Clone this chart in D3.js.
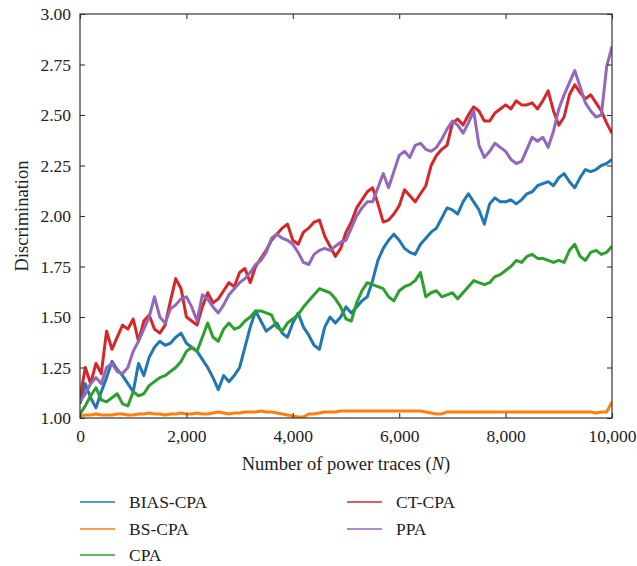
<!DOCTYPE html>
<html>
<head>
<meta charset="utf-8">
<script src="https://cdn.jsdelivr.net/npm/d3@7"></script>
<style>
  html, body { margin: 0; padding: 0; background: #fff; }
  svg { display: block; }
  text { font-family: "Liberation Serif", "Times New Roman", "DejaVu Serif", serif; fill: #222; }
</style>
</head>
<body>
<svg id="chart" width="637" height="566"></svg>
<script>
// number of power traces, sampled every 100
const traces = d3.range(0, 10001, 100);

const seriesNames = ['BIAS-CPA', 'BS-CPA', 'CPA', 'CT-CPA', 'PPA'];
const seriesColors = ['#1f77b4', '#ff7f0e', '#2ca02c', '#d62728', '#9467bd'];

const biasCpa = [
  1.07, 1.17, 1.10, 1.05, 1.13, 1.20, 1.28, 1.24, 1.21, 1.17,
  1.13, 1.27, 1.21, 1.30, 1.35, 1.38, 1.36, 1.37, 1.40, 1.42,
  1.37, 1.35, 1.33, 1.29, 1.25, 1.20, 1.14, 1.21, 1.18, 1.21,
  1.25, 1.35, 1.45, 1.53, 1.48, 1.43, 1.45, 1.47, 1.42, 1.40,
  1.47, 1.52, 1.45, 1.41, 1.36, 1.34, 1.45, 1.50, 1.47, 1.50,
  1.55, 1.52, 1.55, 1.58, 1.60, 1.68, 1.78, 1.84, 1.88, 1.91,
  1.88, 1.84, 1.82, 1.81, 1.86, 1.89, 1.92, 1.94, 1.99, 2.04,
  2.03, 2.01, 2.07, 2.11, 2.07, 2.03, 1.96, 2.06, 2.09, 2.07,
  2.07, 2.08, 2.06, 2.08, 2.11, 2.12, 2.15, 2.16, 2.17, 2.15,
  2.19, 2.21, 2.17, 2.14, 2.19, 2.23, 2.22, 2.23, 2.25, 2.26,
  2.28
];
const bsCpa = [
  1.01, 1.015, 1.015, 1.02, 1.015, 1.015, 1.015, 1.02, 1.02, 1.015,
  1.015, 1.02, 1.02, 1.025, 1.02, 1.02, 1.015, 1.02, 1.02, 1.025,
  1.02, 1.02, 1.025, 1.02, 1.02, 1.025, 1.03, 1.025, 1.02, 1.025,
  1.025, 1.03, 1.03, 1.03, 1.035, 1.03, 1.03, 1.025, 1.02, 1.015,
  1.01, 1.005, 1.005, 1.02, 1.02, 1.025, 1.03, 1.03, 1.03, 1.035,
  1.035, 1.035, 1.035, 1.035, 1.035, 1.035, 1.035, 1.035, 1.035, 1.035,
  1.035, 1.035, 1.035, 1.035, 1.035, 1.03, 1.025, 1.02, 1.02, 1.03,
  1.03, 1.03, 1.03, 1.03, 1.03, 1.03, 1.03, 1.03, 1.03, 1.03,
  1.03, 1.03, 1.03, 1.03, 1.03, 1.03, 1.03, 1.03, 1.03, 1.03,
  1.03, 1.03, 1.03, 1.03, 1.03, 1.03, 1.03, 1.025, 1.03, 1.03,
  1.08
];
const cpa = [
  1.02, 1.06, 1.11, 1.15, 1.09, 1.08, 1.10, 1.12, 1.07, 1.06,
  1.13, 1.11, 1.12, 1.16, 1.18, 1.20, 1.21, 1.23, 1.25, 1.28,
  1.33, 1.35, 1.33, 1.40, 1.47, 1.40, 1.38, 1.44, 1.47, 1.44,
  1.45, 1.48, 1.50, 1.53, 1.53, 1.52, 1.51, 1.45, 1.43, 1.47,
  1.49, 1.51, 1.55, 1.58, 1.61, 1.64, 1.63, 1.62, 1.59, 1.55,
  1.49, 1.48, 1.57, 1.63, 1.67, 1.66, 1.65, 1.64, 1.60, 1.58,
  1.63, 1.65, 1.66, 1.68, 1.72, 1.60, 1.62, 1.63, 1.60, 1.61,
  1.62, 1.59, 1.62, 1.65, 1.68, 1.67, 1.66, 1.67, 1.70, 1.71,
  1.73, 1.75, 1.78, 1.77, 1.80, 1.81, 1.79, 1.79, 1.78, 1.77,
  1.78, 1.77, 1.83, 1.86, 1.80, 1.78, 1.82, 1.83, 1.81, 1.82,
  1.85
];
const ctCpa = [
  1.10, 1.25, 1.17, 1.27, 1.22, 1.43, 1.34, 1.40, 1.46, 1.44,
  1.49, 1.38, 1.48, 1.51, 1.44, 1.42, 1.46, 1.58, 1.69, 1.64,
  1.50, 1.48, 1.46, 1.55, 1.62, 1.57, 1.59, 1.63, 1.67, 1.65,
  1.72, 1.74, 1.67, 1.75, 1.79, 1.83, 1.88, 1.91, 1.94, 1.96,
  1.88, 1.86, 1.92, 1.94, 1.97, 1.98, 1.90, 1.85, 1.80, 1.84,
  1.92, 1.97, 2.04, 2.08, 2.12, 2.14, 2.06, 1.97, 1.98, 2.01,
  2.05, 2.13, 2.10, 2.07, 2.11, 2.15, 2.25, 2.30, 2.33, 2.35,
  2.46, 2.48, 2.45, 2.50, 2.54, 2.52, 2.47, 2.47, 2.51, 2.53,
  2.55, 2.53, 2.57, 2.55, 2.55, 2.56, 2.53, 2.57, 2.62, 2.52,
  2.45, 2.49, 2.60, 2.65, 2.61, 2.58, 2.60, 2.56, 2.52, 2.46,
  2.41
];
const ppa = [
  1.08, 1.12, 1.17, 1.20, 1.17, 1.25, 1.27, 1.23, 1.22, 1.25,
  1.33, 1.38, 1.44, 1.50, 1.60, 1.50, 1.47, 1.54, 1.56, 1.59,
  1.60, 1.55, 1.48, 1.61, 1.59, 1.55, 1.52, 1.56, 1.61, 1.64,
  1.67, 1.69, 1.72, 1.76, 1.78, 1.82, 1.89, 1.91, 1.89, 1.88,
  1.86, 1.82, 1.77, 1.76, 1.81, 1.83, 1.84, 1.83, 1.85, 1.87,
  1.88, 1.94, 2.00, 2.04, 2.07, 2.07, 2.14, 2.21, 2.14, 2.22,
  2.30, 2.32, 2.29, 2.35, 2.36, 2.33, 2.32, 2.34, 2.38, 2.43,
  2.47, 2.45, 2.41, 2.46, 2.52, 2.35, 2.29, 2.32, 2.36, 2.34,
  2.32, 2.28, 2.26, 2.27, 2.33, 2.39, 2.37, 2.39, 2.34, 2.42,
  2.53, 2.60, 2.66, 2.72, 2.64, 2.56, 2.52, 2.49, 2.50, 2.74,
  2.84
];
const seriesValues = [biasCpa, bsCpa, cpa, ctCpa, ppa];

const xTicks = [0, 2000, 4000, 6000, 8000, 10000];
const yTicks = [1.00, 1.25, 1.50, 1.75, 2.00, 2.25, 2.50, 2.75, 3.00];

const serif = '"Liberation Serif", "Times New Roman", "DejaVu Serif", serif';
const svg = d3.select('#chart');
const m = { left: 80, right: 612, top: 14, bottom: 418 };
const axisColor = '#333';

const x = d3.scaleLinear().domain([0, 10000]).range([m.left, m.right]);
const y = d3.scaleLinear().domain([1, 3]).range([m.bottom, m.top]);

svg.append('clipPath').attr('id', 'plot-clip')
  .append('rect').attr('x', m.left).attr('y', m.top)
  .attr('width', m.right - m.left).attr('height', m.bottom - m.top);

// data lines
const line = d3.line().x((d, i) => x(traces[i])).y(d => y(d));
const lineG = svg.append('g').attr('clip-path', 'url(#plot-clip)');
seriesValues.forEach((vals, i) => {
  lineG.append('path').datum(vals)
    .attr('d', line)
    .attr('fill', 'none')
    .attr('stroke', seriesColors[i])
    .attr('stroke-width', 3)
    .attr('stroke-linejoin', 'round');
});

// frame and inward ticks on all four sides
const axisFont = g => {
  g.attr('font-family', serif);
  g.selectAll('text').style('font-family', serif)
    .style('font-size', '17.5px').attr('fill', '#222');
};
const styleAxis = g => {
  g.select('.domain').remove();
  g.selectAll('line').attr('stroke', axisColor).attr('stroke-width', 1.1);
};

svg.append('g').attr('transform', `translate(0,${m.bottom})`)
  .call(d3.axisBottom(x).tickValues(xTicks).tickSize(-5).tickPadding(12).tickFormat(d3.format(',')))
  .call(styleAxis).call(axisFont);
svg.append('g').attr('transform', `translate(0,${m.top})`)
  .call(d3.axisTop(x).tickValues(xTicks).tickSize(-5).tickFormat(''))
  .call(styleAxis);
svg.append('g').attr('transform', `translate(${m.left},0)`)
  .call(d3.axisLeft(y).tickValues(yTicks).tickSize(-5).tickPadding(9).tickFormat(d3.format('.2f')))
  .call(styleAxis).call(axisFont);
svg.append('g').attr('transform', `translate(${m.right},0)`)
  .call(d3.axisRight(y).tickValues(yTicks).tickSize(-5).tickFormat(''))
  .call(styleAxis);

svg.append('rect')
  .attr('x', m.left).attr('y', m.top)
  .attr('width', m.right - m.left).attr('height', m.bottom - m.top)
  .attr('fill', 'none').attr('stroke', axisColor).attr('stroke-width', 1.2);

// axis titles
const xt = svg.append('text')
  .attr('x', (m.left + m.right) / 2).attr('y', 470)
  .attr('text-anchor', 'middle').attr('font-size', 18.5)
  .style('font-family', serif);
xt.append('tspan').text('Number of power traces (');
xt.append('tspan').attr('font-style', 'italic').text('N');
xt.append('tspan').text(')');

svg.append('text')
  .attr('transform', `translate(28,${(m.top + m.bottom) / 2}) rotate(-90)`)
  .attr('text-anchor', 'middle').attr('font-size', 18.5)
  .style('font-family', serif)
  .text('Discrimination');

// legend, two columns
const legendCols = [80, 347];
const legendRows = [502, 529, 555];
seriesNames.forEach((name, i) => {
  const col = i < 3 ? 0 : 1;
  const row = i < 3 ? i : i - 3;
  const lx = legendCols[col], ly = legendRows[row];
  svg.append('line')
    .attr('x1', lx).attr('x2', lx + 35).attr('y1', ly).attr('y2', ly)
    .attr('stroke', seriesColors[i]).attr('stroke-width', 1.6);
  svg.append('text')
    .attr('x', lx + 49).attr('y', ly + 6)
    .attr('font-size', 17.5)
    .style('font-family', serif)
    .text(name);
});
</script>
</body>
</html>
